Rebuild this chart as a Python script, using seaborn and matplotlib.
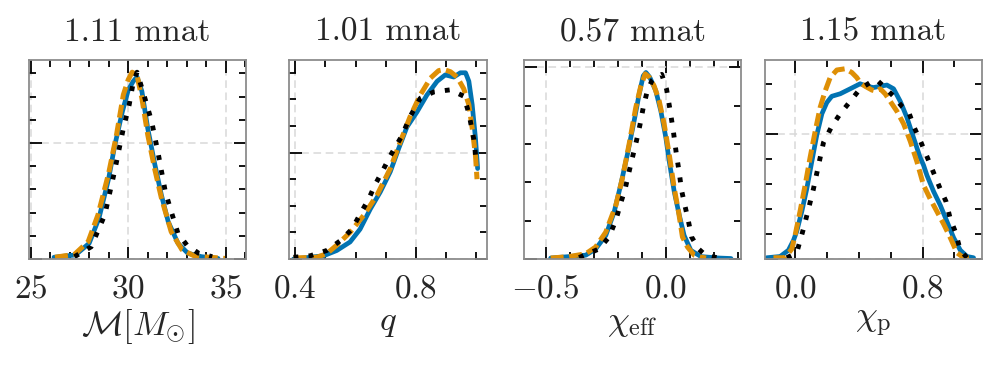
import numpy as np
import pandas as pd
import matplotlib
matplotlib.use("Agg")
import matplotlib.pyplot as plt
import seaborn as sns
from matplotlib.ticker import MultipleLocator

# panel 1: chirp mass
m_x_blue = [26.2, 27.3, 28.0, 28.5, 29.0, 29.3, 29.7, 30.0, 30.25, 30.45, 30.7, 31.0, 31.35, 31.7, 32.05, 32.55, 33.05, 33.75, 34.6]
m_y_blue = [0.003, 0.007, 0.027, 0.07, 0.139, 0.194, 0.254, 0.291, 0.306, 0.314, 0.289, 0.225, 0.165, 0.11, 0.064, 0.027, 0.01, 0.004, 0.001]
m_x_orange = [26.25, 27.25, 27.95, 28.45, 29.0, 29.4, 29.75, 30.0, 30.2, 30.45, 30.7, 31.0, 31.35, 31.7, 32.2, 32.75, 33.4, 34.95]
m_y_orange = [0.003, 0.008, 0.03, 0.076, 0.148, 0.214, 0.283, 0.309, 0.322, 0.317, 0.277, 0.214, 0.156, 0.105, 0.047, 0.016, 0.005, 0.001]
m_x_black = [27.25, 28.1, 28.8, 29.3, 29.75, 30.05, 30.25, 30.45, 30.75, 31.2, 31.55, 31.9, 32.2, 32.55, 33.0, 33.6, 34.3]
m_y_black = [0.004, 0.021, 0.076, 0.151, 0.225, 0.266, 0.303, 0.322, 0.289, 0.237, 0.179, 0.116, 0.082, 0.044, 0.024, 0.01, 0.004]

# panel 2: mass ratio
q_x_blue = [0.395, 0.494, 0.538, 0.582, 0.615, 0.649, 0.682, 0.715, 0.743, 0.77, 0.803, 0.836, 0.87, 0.897, 0.925, 0.947, 0.964, 0.975, 0.986, 0.997, 1.004]
q_y_blue = [0.0, 0.03, 0.08, 0.16, 0.28, 0.47, 0.63, 0.82, 1.04, 1.24, 1.38, 1.54, 1.67, 1.73, 1.71, 1.75, 1.75, 1.67, 1.45, 1.13, 0.85]
q_x_orange = [0.395, 0.472, 0.505, 0.538, 0.582, 0.627, 0.671, 0.715, 0.748, 0.781, 0.814, 0.848, 0.875, 0.892, 0.914, 0.936, 0.958, 0.975, 0.986, 0.997, 1.002]
q_y_orange = [0.01, 0.016, 0.05, 0.13, 0.25, 0.41, 0.6, 0.85, 1.1, 1.34, 1.54, 1.7, 1.77, 1.78, 1.76, 1.71, 1.6, 1.45, 1.23, 0.97, 0.75]
q_x_black = [0.395, 0.45, 0.505, 0.549, 0.588, 0.615, 0.643, 0.665, 0.69, 0.715, 0.754, 0.781, 0.814, 0.859, 0.914, 0.958, 0.975, 0.991, 1.0]
q_y_black = [0.016, 0.03, 0.08, 0.17, 0.28, 0.42, 0.56, 0.7, 0.83, 0.97, 1.16, 1.34, 1.51, 1.57, 1.59, 1.53, 1.37, 1.13, 0.91]

# panel 3: chi_eff
e_x_blue = [-0.479, -0.403, -0.333, -0.292, -0.25, -0.215, -0.188, -0.16, -0.132, -0.111, -0.094, -0.083, -0.067, -0.042, -0.021, 0.0, 0.014, 0.035, 0.056, 0.076, 0.104, 0.146, 0.222, 0.271]
e_y_blue = [0.02, 0.05, 0.08, 0.21, 0.49, 0.98, 1.54, 2.18, 2.88, 3.44, 3.82, 3.89, 3.79, 3.51, 3.09, 2.53, 2.04, 1.4, 0.91, 0.49, 0.18, 0.05, 0.02, 0.01]
e_x_orange = [-0.479, -0.403, -0.333, -0.292, -0.25, -0.208, -0.181, -0.153, -0.125, -0.104, -0.086, -0.069, -0.049, -0.028, -0.007, 0.014, 0.035, 0.053, 0.069, 0.09, 0.118, 0.146, 0.167]
e_y_orange = [0.02, 0.05, 0.11, 0.25, 0.56, 1.12, 1.68, 2.39, 3.16, 3.61, 3.86, 3.79, 3.61, 3.3, 2.81, 2.18, 1.47, 0.98, 0.46, 0.25, 0.08, 0.04, 0.02]
e_x_black = [-0.361, -0.278, -0.236, -0.208, -0.188, -0.169, -0.153, -0.136, -0.122, -0.108, -0.094, -0.078, -0.058, -0.039, -0.017, 0.003, 0.018, 0.031, 0.044, 0.056, 0.065, 0.079, 0.093, 0.107, 0.136, 0.167, 0.222]
e_y_black = [0.03, 0.21, 0.46, 0.81, 1.16, 1.47, 1.82, 2.18, 2.47, 2.79, 3.16, 3.49, 3.72, 3.8, 3.85, 3.54, 3.09, 2.67, 2.18, 1.79, 1.44, 1.12, 0.81, 0.46, 0.21, 0.07, 0.02]

# panel 4: chi_p
p_x_blue = [-0.178, -0.094, -0.042, -0.01, 0.01, 0.042, 0.073, 0.105, 0.136, 0.168, 0.199, 0.23, 0.283, 0.346, 0.408, 0.45, 0.492, 0.534, 0.576, 0.618, 0.66, 0.702, 0.743, 0.785, 0.806, 0.827, 0.869, 0.911, 0.953, 0.995, 1.037, 1.079, 1.12]
p_y_blue = [0.01, 0.02, 0.07, 0.15, 0.22, 0.38, 0.56, 0.78, 0.99, 1.16, 1.25, 1.3, 1.32, 1.36, 1.4, 1.38, 1.37, 1.38, 1.39, 1.36, 1.26, 1.13, 0.97, 0.81, 0.75, 0.67, 0.54, 0.43, 0.3, 0.17, 0.07, 0.02, 0.01]
p_x_orange = [-0.136, -0.063, -0.021, 0.0, 0.031, 0.063, 0.094, 0.126, 0.157, 0.188, 0.22, 0.262, 0.314, 0.356, 0.387, 0.408, 0.44, 0.482, 0.513, 0.534, 0.565, 0.597, 0.639, 0.681, 0.723, 0.764, 0.806, 0.848, 0.89, 0.932, 0.974, 1.016, 1.058, 1.099]
p_y_orange = [0.01, 0.01, 0.08, 0.19, 0.38, 0.59, 0.81, 1.02, 1.21, 1.34, 1.45, 1.51, 1.52, 1.49, 1.45, 1.41, 1.38, 1.35, 1.34, 1.36, 1.32, 1.26, 1.18, 1.08, 0.94, 0.78, 0.59, 0.48, 0.38, 0.28, 0.17, 0.05, 0.01, 0.01]
p_x_black = [-0.052, 0.01, 0.052, 0.084, 0.115, 0.147, 0.178, 0.23, 0.283, 0.346, 0.408, 0.471, 0.513, 0.555, 0.618, 0.67, 0.714, 0.748, 0.794, 0.827, 0.869, 0.911, 0.947, 0.974, 1.005, 1.037, 1.079]
p_y_black = [0.01, 0.05, 0.24, 0.4, 0.56, 0.75, 0.93, 1.06, 1.16, 1.26, 1.36, 1.41, 1.43, 1.38, 1.3, 1.22, 1.17, 1.05, 0.92, 0.82, 0.69, 0.56, 0.46, 0.32, 0.22, 0.07, 0.01]

titles = ["1.11 mnat", "1.01 mnat", "0.57 mnat", "1.15 mnat"]
xlabels = [r"$\mathcal{M}[M_{\odot}]$", r"$q$", r"$\chi_{\rm eff}$", r"$\chi_{\rm p}$"]

panels = [
    (m_x_blue, m_y_blue, m_x_orange, m_y_orange, m_x_black, m_y_black),
    (q_x_blue, q_y_blue, q_x_orange, q_y_orange, q_x_black, q_y_black),
    (e_x_blue, e_y_blue, e_x_orange, e_y_orange, e_x_black, e_y_black),
    (p_x_blue, p_y_blue, p_x_orange, p_y_orange, p_x_black, p_y_black),
]
xlims = [(24.92, 36.03), (0.38, 1.035), (-0.59, 0.3125), (-0.189, 1.173)]
ylims = [(0, 0.343), (0, 1.87), (0, 4.15), (0, 1.59)]
xmajor = [5, 0.4, 0.5, 0.8]
xminor = [1, 0.1, 0.1, 0.2]
ymajor = [0.2, 1.0, 4.0, 1.0]
yminor = [0.04, 0.25, 0.8, 0.2]
# axes boxes in pixels: left, right
boxes = [(29, 246), (289, 487), (524, 741), (765, 982)]

sns.set_theme(style="ticks")
plt.rcParams["font.family"] = ["cmr10"]
plt.rcParams["mathtext.fontset"] = "cm"
plt.rcParams["axes.formatter.use_mathtext"] = True
plt.rcParams["axes.unicode_minus"] = True

blue = "#0173b2"
orange = "#de8f05"

fig = plt.figure(figsize=(9.97, 3.73), dpi=100)
W, H = 997, 373
top, bottom = 60, 259
for i in range(4):
    l, r = boxes[i]
    ax = fig.add_axes([l / W, (H - bottom) / H, (r - l) / W, (bottom - top) / H])
    bx, by, ox, oy, kx, ky = panels[i]
    sns.lineplot(x=bx, y=by, ax=ax, color=blue, lw=3.4, estimator=None, sort=False)
    sns.lineplot(x=ox, y=oy, ax=ax, color=orange, lw=3.6, ls=(0, (2.6, 1.1)), estimator=None, sort=False)
    sns.lineplot(x=kx, y=ky, ax=ax, color="black", lw=3.5, ls=(0, (1, 2.1)), estimator=None, sort=False)
    ax.set_xlim(*xlims[i])
    ax.set_ylim(*ylims[i])
    ax.xaxis.set_major_locator(MultipleLocator(xmajor[i]))
    ax.xaxis.set_minor_locator(MultipleLocator(xminor[i]))
    ax.yaxis.set_major_locator(MultipleLocator(ymajor[i]))
    ax.yaxis.set_minor_locator(MultipleLocator(yminor[i]))
    ax.set_yticklabels([])
    ax.grid(True, which="major", ls=(0, (5, 3)), color="#d9d9d9", lw=1.1)
    ax.set_axisbelow(True)
    ax.tick_params(which="both", direction="in", top=True, right=True, color="black", width=1.3)
    ax.tick_params(which="major", length=9, labelsize=24, pad=11)
    ax.tick_params(which="minor", length=5)
    for s in ax.spines.values():
        s.set_color("#8c8c8c")
        s.set_linewidth(1.3)
    ax.set_title(titles[i], fontsize=24, pad=14)
    ax.set_xlabel(xlabels[i], fontsize=25, labelpad=3)
    ax.set_ylabel("")

fig.savefig("out.png", dpi=100)
